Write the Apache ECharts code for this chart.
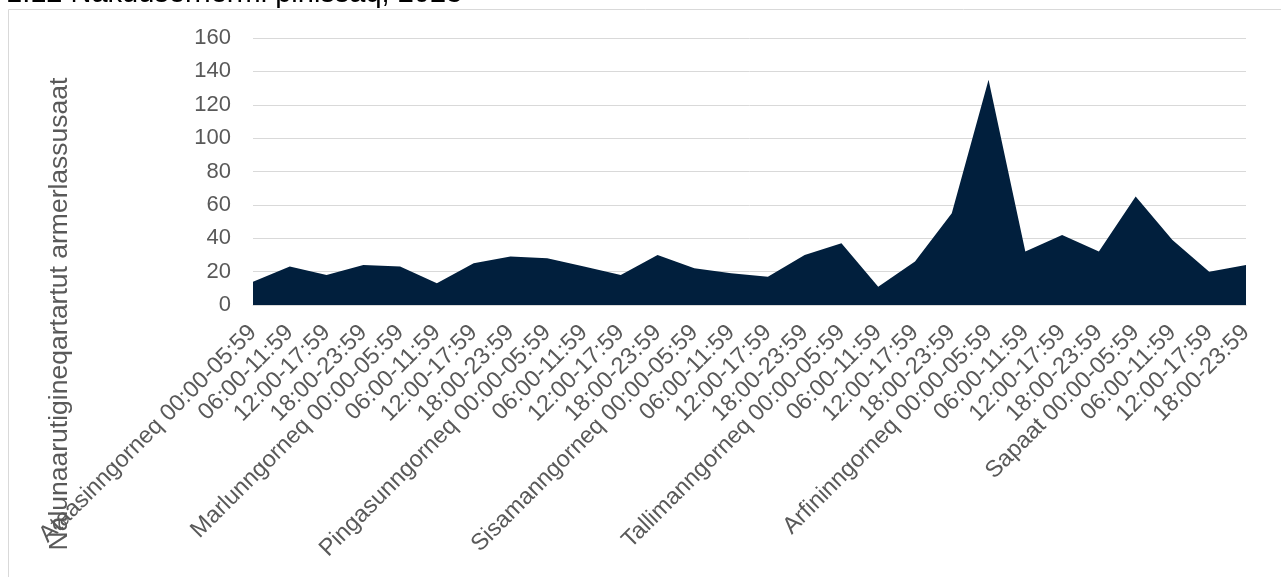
<!DOCTYPE html>
<html>
<head>
<meta charset="utf-8">
<title>1.12 Nakuusernermi pinissaq, 2023</title>
<script src="https://cdn.jsdelivr.net/npm/echarts@6/dist/echarts.min.js"></script>
<style>
  html, body { margin: 0; padding: 0; background: #fff; }
  #chart { width: 1281px; height: 577px; }
</style>
</head>
<body>
<div id="chart"></div>
<script>
// ulluni sapaatip akunnerani, nalunaaqutaq 6-inik akunneri
const days = ["Ataasinngorneq", "Marlunngorneq", "Pingasunngorneq", "Sisamanngorneq", "Tallimanngorneq", "Arfininngorneq", "Sapaat"];
const slots = ["00:00-05:59", "06:00-11:59", "12:00-17:59", "18:00-23:59"];
const counts = [14, 23, 18, 24, 23, 13, 25, 29, 28, 23, 18, 30, 22, 19, 17, 30, 37, 11, 26, 55, 135, 32, 42, 32, 65, 39, 20, 24];
const yTicks = [0, 20, 40, 60, 80, 100, 120, 140, 160];

const titleText = "1.12 Nakuusernermi pinissaq, 2023";
const yTitle = "Nalunaarutigineqartartut armerlassusaat";

// first slot of each day carries the day name
const categories = [];
days.forEach((d) => {
  slots.forEach((s, i) => {
    categories.push(i === 0 ? d + " " + s : s);
  });
});

const font = "'Liberation Sans', Arial, sans-serif";
const grey = "#595959";
const lineGrey = "#d9d9d9";

const chart = echarts.init(document.getElementById("chart"), null, { renderer: "canvas" });
chart.setOption({
  animation: false,
  backgroundColor: "#fff",
  textStyle: { fontFamily: font },
  grid: { left: 253, right: 35, top: 38, bottom: 272 },
  graphic: [
    {
      type: "rect",
      shape: { x: 8.5, y: 9.5, width: 1300, height: 600 },
      style: { fill: "none", stroke: lineGrey, lineWidth: 1 },
      silent: true,
    },
    {
      type: "text",
      x: 6,
      y: 8,
      style: {
        text: titleText,
        font: "29px " + font,
        fill: "#000",
        verticalAlign: "bottom",
      },
      silent: true,
    },
    {
      type: "text",
      x: 60,
      y: 314,
      rotation: Math.PI / 2,
      style: {
        text: yTitle,
        font: "26.5px " + font,
        fill: grey,
        align: "center",
        verticalAlign: "middle",
      },
      silent: true,
    },
  ],
  xAxis: {
    type: "category",
    data: categories,
    boundaryGap: false,
    axisLine: { show: true, lineStyle: { color: lineGrey, width: 1 } },
    axisTick: { show: false },
    axisLabel: {
      interval: 0,
      rotate: 45,
      margin: 24,
      color: grey,
      fontSize: 23.5,
      fontFamily: font,
    },
    splitLine: { show: false },
  },
  yAxis: {
    type: "value",
    min: yTicks[0],
    max: yTicks[yTicks.length - 1],
    interval: 20,
    axisLine: { show: false },
    axisTick: { show: false },
    axisLabel: { color: grey, fontSize: 22, fontFamily: font, margin: 22 },
    splitLine: { lineStyle: { color: lineGrey, width: 1 } },
  },
  series: [
    {
      type: "line",
      data: counts,
      symbol: "none",
      lineStyle: { width: 0, color: "#011f3d" },
      areaStyle: { color: "#011f3d", opacity: 1 },
      z: 3,
    },
  ],
});
</script>
</body>
</html>
